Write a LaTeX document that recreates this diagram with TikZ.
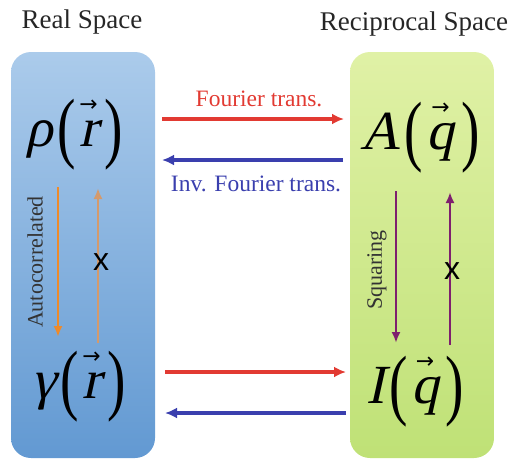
\documentclass[tikz,border=0pt]{standalone}
\usepackage{graphicx}
\usepackage{fontspec}
\setmainfont{Liberation Serif}
\newfontfamily\xsans{Liberation Sans}
\newfontfamily\dvs{DejaVu Sans}
\newfontfamily\slserif[FakeSlant=0.22]{Liberation Serif}
\usetikzlibrary{arrows.meta}
\definecolor{fred}{HTML}{E23A32}
\definecolor{fblue}{HTML}{3A3FAE}
\definecolor{forange}{HTML}{EE8A2A}
\definecolor{forange2}{HTML}{D49A6C}
\definecolor{fpurple}{HTML}{7E1F6E}
\definecolor{btop}{HTML}{ABCBEB}
\definecolor{bbot}{HTML}{6299D2}
\definecolor{gtop}{HTML}{E0F1A6}
\definecolor{gbot}{HTML}{BFE176}
\newcommand\tallparen[1]{\raisebox{-0.13em}{\scalebox{1}[1.42]{#1}}}
\newcommand\arrowover[1]{\setbox0\hbox{#1}\hbox to \wd0{\hss\raisebox{15pt}[0pt][0pt]{\dvs\fontsize{9.5}{10}\selectfont →}\hss}\kern-\wd0\box0}
\newcommand\funcof[2]{{\slserif #1}\kern2pt\tallparen{(}\kern1.5pt\arrowover{\slserif #2}\kern3pt\tallparen{)}}
\tikzset{
  spacebox/.style={rounded corners=20pt, minimum width=144pt, minimum height=406pt, inner sep=0pt},
  title/.style={font=\fontsize{27}{30}\selectfont, text=black!85},
  lbl/.style={font=\fontsize{23.5}{26}\selectfont},
  vlbl/.style={font=\fontsize{22}{24}\selectfont, rotate=90, text=black!80},
  mathnode/.style={font=\fontsize{24}{28}\selectfont, inner sep=0pt, scale=2.3, transform shape, anchor=base west},
  harrow/.style={line width=3.4pt, -{Latex[length=12pt,width=11pt]}},
  varrow/.style={line width=2.3pt, -{Latex[length=11pt,width=9pt]}},
  xmark/.style={font=\xsans\fontsize{32}{34}\selectfont}
}
\begin{document}
\begin{tikzpicture}[x=1pt,y=-1pt]
\useasboundingbox (0,0) rectangle (517,461);
% boxes
\node[spacebox, top color=btop, bottom color=bbot] (L) at (83,255) {};
\node[spacebox, top color=gtop, bottom color=gbot] (R) at (422,255) {};
% titles
\node[title] (tL) at (82,22) {Real Space};
\node[title] (tR) at (414,24) {Reciprocal Space};
% math
\node[mathnode] (rho) at (25,146) {\funcof{ρ}{r}};
\node[mathnode] (A) at (360,149) {\funcof{A}{q}};
\node[mathnode] (gam) at (31,398) {\funcof{γ}{r}};
\node[mathnode] (I) at (366,403) {\funcof{I}{q}};
% horizontal arrow ends
\coordinate (a1s) at (162,119);
\coordinate (a1e) at (344,119);
\coordinate (a2s) at (343,160);
\coordinate (a2e) at (162,160);
\coordinate (a3s) at (165,372);
\coordinate (a3e) at (346,372);
\coordinate (a4s) at (346,413);
\coordinate (a4e) at (165,413);
\draw[harrow, fred] (a1s) -- (a1e);
\draw[harrow, fblue] (a2s) -- (a2e);
\draw[harrow, fred] (a3s) -- (a3e);
\draw[harrow, fblue] (a4s) -- (a4e);
\node[lbl, text=fred] (ft) at (259,99) {Fourier trans.};
\node[lbl, text=fblue] (ift) at (256,184) {Inv. Fourier trans.};
% left vertical arrows
\coordinate (o1s) at (58,187);
\coordinate (o1e) at (58,337);
\coordinate (o2s) at (98,343);
\coordinate (o2e) at (98,188);
\draw[varrow, forange] (o1s) -- (o1e);
\draw[varrow, forange2] (o2s) -- (o2e);
\node[vlbl] (ac) at (35,262) {Autocorrelated};
\node[xmark] (xL) at (101,262) {x};
% right vertical arrows
\coordinate (p1s) at (396,191);
\coordinate (p1e) at (396,343);
\coordinate (p2s) at (450,345);
\coordinate (p2e) at (450,192);
\draw[varrow, fpurple] (p1s) -- (p1e);
\draw[varrow, fpurple] (p2s) -- (p2e);
\node[vlbl] (sq) at (377,270) {Squaring};
\node[xmark] (xR) at (452,271) {x};
\end{tikzpicture}
\end{document}
